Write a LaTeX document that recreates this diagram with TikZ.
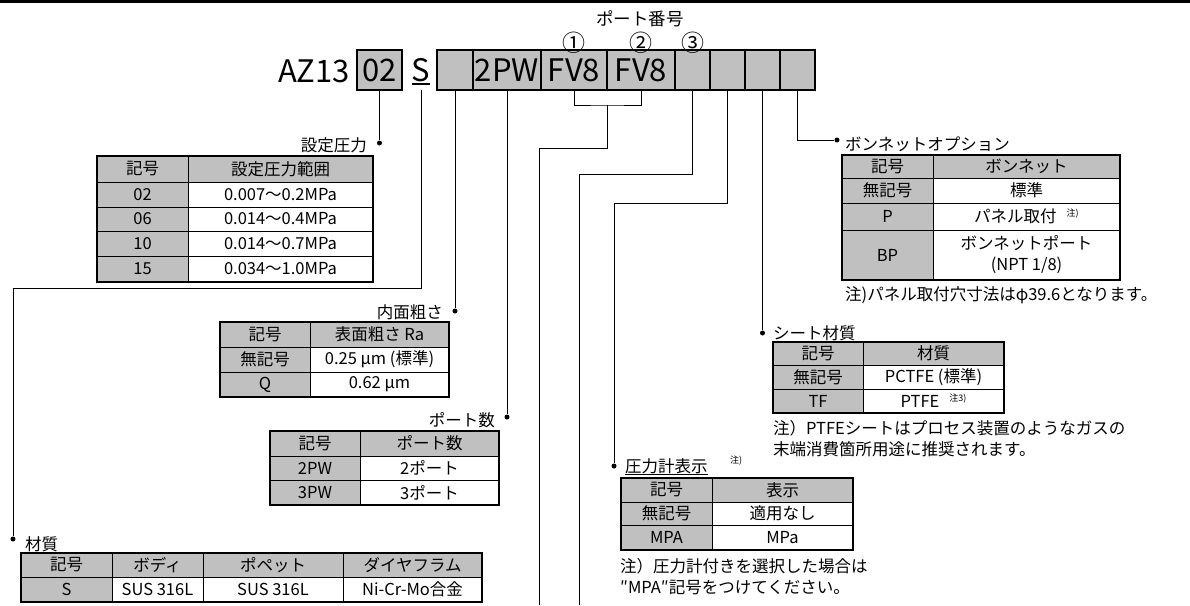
\documentclass[tikz,border=0pt]{standalone}
\usepackage{fontspec}
\setmainfont{Noto Sans CJK JP}
\usetikzlibrary{calc}
\definecolor{boxgray}{RGB}{192,192,192}
\newcommand\codefont{\fontsize{31}{31}\selectfont}
\newcommand\cellfont{\fontsize{16.5}{21}\selectfont}
\newcommand\supfont{\fontsize{9}{10}\selectfont}
\newcommand\supnote[1]{\raisebox{6pt}{\supfont #1}}
\newcommand\cell[7]{\node[cellbox,#6,minimum width={(#4)-(#2)},minimum height={(#5)-(#3)}] (#1) at ({((#2)+(#4))/2},{((#3)+(#5))/2}) {#7};}
\tikzset{
 conn/.style={draw, line width=0.9pt},
 dotn/.style={circle, fill, inner sep=0pt, minimum size=5pt},
 codebox/.style={draw, line width=2.2pt, fill=boxgray, minimum height=40pt, inner sep=0pt, font=\codefont},
 cellbox/.style={draw, line width=0.9pt, inner sep=0pt, outer sep=0pt, font=\cellfont, align=center},
 hd/.style={fill=boxgray},
 wt/.style={fill=white},
 lbl/.style={inner sep=0pt, font=\cellfont},
 note/.style={inner sep=0pt, font=\cellfont, anchor=west},
 frame/.style={draw, line width=2pt},
}
\begin{document}
\begin{tikzpicture}[x=1pt,y=-1pt]
\useasboundingbox (0,0) rectangle (1190,605);
\fill (0,0) rectangle (1190,3);

% ---- code row ----
\node[lbl, font=\codefont, anchor=east] (az) at (350,71) {AZ13};
\node[codebox, minimum width=45] (b02) at (379.5,70) {02};
\node[inner sep=0pt, minimum height=40pt, font=\codefont] (bS) at (421,70) {S};
\draw[line width=1.8pt] ([yshift=-3pt]bS.base west) -- ([yshift=-3pt]bS.base east);
\node[codebox, minimum width=36] (bA) at (455,70) {};
\node[codebox, minimum width=68] (bPW) at (507,70) {2PW};
\node[codebox, minimum width=66] (bF1) at (574,70) {FV8};
\node[codebox, minimum width=68] (bF2) at (641,70) {FV8};
\node[codebox, minimum width=35] (bP3) at (692.5,70) {};
\node[codebox, minimum width=35] (bG) at (727.5,70) {};
\node[codebox, minimum width=35] (bSt) at (762.5,70) {};
\node[codebox, minimum width=35] (bBn) at (797.5,70) {};

\node[lbl, font=\fontsize{17.5}{19}\selectfont] (pn) at (640,19) {ポート番号};
\node[lbl, font=\fontsize{23}{24}\selectfont] (c1) at (574,43) {①};
\node[lbl, font=\fontsize{23}{24}\selectfont] (c2) at (641,43) {②};
\node[lbl, font=\fontsize{23}{24}\selectfont] (c3) at (692.5,43) {③};

% ---- dots ----
\node[dotn] (d1) at (379.5,143) {};
\node[dotn] (d2) at (455,311) {};
\node[dotn] (d3) at (507,417) {};
\node[dotn] (d4) at (13,539) {};
\node[dotn] (d5) at (837,140) {};
\node[dotn] (d6) at (762.5,333) {};
\node[dotn] (d7) at (614,466) {};

% ---- connectors ----
\coordinate (k1) at (13,288);
\coordinate (fvm) at (607,105);
\coordinate (f1) at (539,148);
\coordinate (fe) at (539,605);
\coordinate (g1) at (579,174);
\coordinate (ge) at (579,605);
\coordinate (h1) at (614,203);
\draw[conn] (b02.south) -- (d1);
\draw[conn] (bS.south) |- (k1) -- (d4);
\draw[conn] (bA.south) -- (d2);
\draw[conn] (bPW.south) -- (d3);
\draw[conn] (bF1.south) |- (fvm) -| (bF2.south);
\draw[conn] (fvm) |- (f1) -- (fe);
\draw[conn] (bP3.south) |- (g1) -- (ge);
\draw[conn] (bG.south) |- (h1) -- (d7);
\draw[conn] (bSt.south) -- (d6);
\draw[conn] (bBn.south) |- (d5);

% ---- labels ----
\node[lbl, anchor=base east] (l1) at (367,151) {設定圧力};
\node[lbl, anchor=base east] (l2) at (443,318) {内面粗さ};
\node[lbl, anchor=base east] (l3) at (495,426) {ポート数};
\node[lbl, anchor=base west] (l4) at (25,550) {材質};
\node[lbl, anchor=base west] (l5) at (845,150) {ボンネットオプション};
\node[lbl, anchor=base west] (l6) at (773,339) {シート材質};
\node[lbl, anchor=base west] (l7) at (625,472) {圧力計表示};
\draw[line width=0.9pt] ([yshift=-2.5pt]l7.base west) -- ([yshift=-2.5pt]l7.base east);
\node[lbl, font=\supfont, anchor=west] (l7s) at (730,461) {注)};

% ---- table 1 : 設定圧力 ----
\cell{t1a}{97}{156}{188}{182}{hd}{記号}
\cell{t1b}{188}{156}{373}{182}{hd}{設定圧力範囲}
\cell{t1c}{97}{182}{188}{207}{hd}{02}
\cell{t1d}{188}{182}{373}{207}{wt}{0.007～0.2MPa}
\cell{t1e}{97}{207}{188}{231}{hd}{06}
\cell{t1f}{188}{207}{373}{231}{wt}{0.014～0.4MPa}
\cell{t1g}{97}{231}{188}{256}{hd}{10}
\cell{t1h}{188}{231}{373}{256}{wt}{0.014～0.7MPa}
\cell{t1i}{97}{256}{188}{282}{hd}{15}
\cell{t1j}{188}{256}{373}{282}{wt}{0.034～1.0MPa}
\draw[frame] (t1a.north west) rectangle (t1j.south east);

% ---- table 2 : 内面粗さ ----
\cell{t2a}{220}{322}{310}{347}{hd}{記号}
\cell{t2b}{310}{322}{449}{347}{hd}{表面粗さ Ra}
\cell{t2c}{220}{347}{310}{372}{hd}{無記号}
\cell{t2d}{310}{347}{449}{372}{wt}{0.25 μm (標準)}
\cell{t2e}{220}{372}{310}{397}{hd}{Q}
\cell{t2f}{310}{372}{449}{397}{wt}{0.62 μm}
\draw[frame] (t2a.north west) rectangle (t2f.south east);

% ---- table 3 : ポート数 ----
\cell{t3a}{270}{431}{360}{456}{hd}{記号}
\cell{t3b}{360}{431}{499}{456}{hd}{ポート数}
\cell{t3c}{270}{456}{360}{480}{hd}{2PW}
\cell{t3d}{360}{456}{499}{480}{wt}{2ポート}
\cell{t3e}{270}{480}{360}{505}{hd}{3PW}
\cell{t3f}{360}{480}{499}{505}{wt}{3ポート}
\draw[frame] (t3a.north west) rectangle (t3f.south east);

% ---- table 4 : 材質 ----
\cell{t4a}{21}{553}{112}{577}{hd}{記号}
\cell{t4b}{112}{553}{203}{577}{hd}{ボディ}
\cell{t4c}{203}{553}{343}{577}{hd}{ポペット}
\cell{t4d}{343}{553}{482}{577}{hd}{ダイヤフラム}
\cell{t4e}{21}{577}{112}{602}{hd}{S}
\cell{t4f}{112}{577}{203}{602}{wt}{SUS 316L}
\cell{t4g}{203}{577}{343}{602}{wt}{SUS 316L}
\cell{t4h}{343}{577}{482}{602}{wt}{Ni-Cr-Mo合金}
\draw[frame] (t4a.north west) rectangle (t4h.south east);

% ---- table 5 : ボンネット ----
\cell{t5a}{842}{155}{933}{178}{hd}{記号}
\cell{t5b}{933}{155}{1120}{178}{hd}{ボンネット}
\cell{t5c}{842}{178}{933}{203}{hd}{無記号}
\cell{t5d}{933}{178}{1120}{203}{wt}{標準}
\cell{t5e}{842}{203}{933}{230}{hd}{P}
\cell{t5f}{933}{203}{1120}{230}{wt}{パネル取付\hspace{10pt}\supnote{注)}}
\cell{t5g}{842}{230}{933}{280}{hd}{BP}
\cell{t5h}{933}{230}{1120}{280}{wt}{ボンネットポート\\(NPT 1/8)}
\draw[frame] (t5a.north west) rectangle (t5h.south east);
\node[note] (n5) at (845,295) {注)パネル取付穴寸法はφ39.6となります。};

% ---- table 6 : シート材質 ----
\cell{t6a}{773}{342}{863}{365}{hd}{記号}
\cell{t6b}{863}{342}{1004}{365}{hd}{材質}
\cell{t6c}{773}{365}{863}{389}{hd}{無記号}
\cell{t6d}{863}{365}{1004}{389}{wt}{PCTFE (標準)}
\cell{t6e}{773}{389}{863}{413}{hd}{TF}
\cell{t6f}{863}{389}{1004}{413}{wt}{PTFE\hspace{10pt}\supnote{注3)}}
\draw[frame] (t6a.north west) rectangle (t6f.south east);
\node[note] (n6a) at (773,428) {注）PTFEシートはプロセス装置のようなガスの};
\node[note] (n6b) at (773,449) {末端消費箇所用途に推奨されます。};

% ---- table 7 : 圧力計表示 ----
\cell{t7a}{621}{478}{712}{502}{hd}{記号}
\cell{t7b}{712}{478}{853}{502}{hd}{表示}
\cell{t7c}{621}{502}{712}{525}{hd}{無記号}
\cell{t7d}{712}{502}{853}{525}{wt}{適用なし}
\cell{t7e}{621}{525}{712}{550}{hd}{MPA}
\cell{t7f}{712}{525}{853}{550}{wt}{MPa}
\draw[frame] (t7a.north west) rectangle (t7f.south east);
\node[note] (n7a) at (620,566) {注）圧力計付きを選択した場合は};
\node[note] (n7b) at (620,588) {″MPA″記号をつけてください。};
\end{tikzpicture}
\end{document}
